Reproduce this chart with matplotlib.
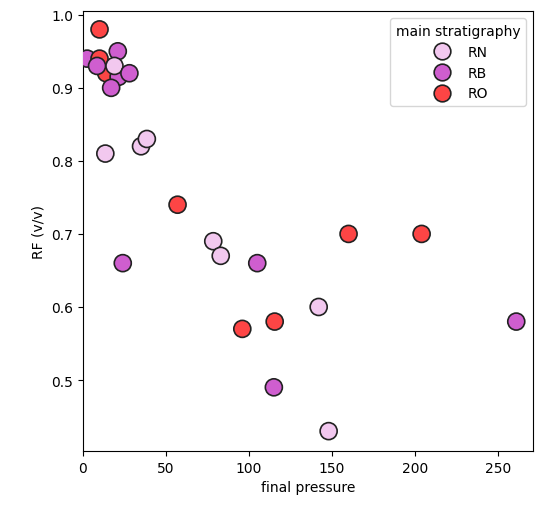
import numpy as np
import matplotlib
matplotlib.use("Agg")
from matplotlib import pyplot as plt
from matplotlib.lines import Line2D

# final pressure, RF (v/v), main stratigraphy
pressure = [2.5, 10, 14, 8.5, 21.5, 21, 19, 28, 17, 10,
            13.5, 35, 38.5, 57, 24, 78.5, 83, 105,
            160, 204, 261, 142, 115.5, 96, 115, 148]
rf = [0.94, 0.94, 0.92, 0.93, 0.915, 0.95, 0.93, 0.92, 0.90, 0.98,
      0.81, 0.82, 0.83, 0.74, 0.66, 0.69, 0.67, 0.66,
      0.70, 0.70, 0.58, 0.60, 0.58, 0.57, 0.49, 0.43]
strat = ["RB", "RO", "RO", "RB", "RB", "RB", "RN", "RB", "RB", "RO",
         "RN", "RN", "RN", "RO", "RB", "RN", "RN", "RB",
         "RO", "RO", "RB", "RN", "RO", "RO", "RB", "RN"]

groups = ["RN", "RB", "RO"]
palette = {"RN": "#f2c8ef", "RB": "#cf5ecf", "RO": "#fd4545"}

fig = plt.figure(figsize=(5.35, 5.06), dpi=100)
ax = fig.add_axes([0.155, 0.107, 0.841, 0.869])

cols = [palette[s] for s in strat]
ax.scatter(pressure, rf, s=150, c=cols, edgecolors="#222222", linewidths=1.2, zorder=3)

ax.set_xlim(0, 271)
ax.set_ylim(0.403, 1.005)
ax.set_xticks([0, 50, 100, 150, 200, 250])
ax.set_yticks([0.5, 0.6, 0.7, 0.8, 0.9, 1.0])
ax.set_xlabel("final pressure")
ax.set_ylabel("RF (v/v)")

handles = [Line2D([], [], marker="o", linestyle="", markersize=12,
                  markerfacecolor=palette[g], markeredgecolor="#222222",
                  markeredgewidth=1.2, label=g) for g in groups]
ax.legend(handles=handles, title="main stratigraphy", loc="upper right")

fig.savefig("out.png", dpi=100)
